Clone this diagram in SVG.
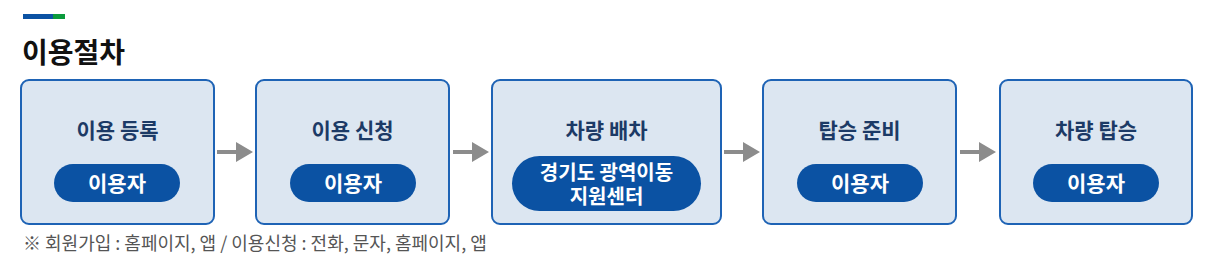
<svg xmlns="http://www.w3.org/2000/svg" width="1213" height="280" viewBox="0 0 1213 280">
<style>
text{font-family:"Noto Sans CJK KR","Noto Sans",sans-serif}
.box{fill:#dce6f1;stroke:#1e63b5;stroke-width:2}
.pill{fill:#0b52a3}
.ttl{font-size:21px;font-weight:bold;fill:#1c3a66;text-anchor:middle}
.who{font-size:21px;font-weight:bold;fill:#ffffff;text-anchor:middle}
.who2{font-size:20px;font-weight:bold;fill:#ffffff;text-anchor:middle}
.arr{fill:#8c8c8c}
</style>
<rect x="23" y="14" width="30" height="5" fill="#0b52a3"/>
<rect x="53" y="14" width="12" height="5" fill="#0b9a3c"/>
<text x="22" y="63" font-size="28" font-weight="bold" fill="#111">이용절차</text>
<g id="n1">
<rect class="box" x="21" y="80" width="193" height="144" rx="8"/>
<text class="ttl" x="117.5" y="138">이용 등록</text>
<rect class="pill" x="54" y="164" width="126" height="38" rx="19"/>
<text class="who" x="117" y="191">이용자</text>
</g>
<g id="n2">
<rect class="box" x="256" y="80" width="193" height="144" rx="8"/>
<text class="ttl" x="352.5" y="138">이용 신청</text>
<rect class="pill" x="290" y="164" width="126" height="38" rx="19"/>
<text class="who" x="353" y="191">이용자</text>
</g>
<g id="n3">
<rect class="box" x="492" y="80" width="229" height="144" rx="8"/>
<text class="ttl" x="606.5" y="138">차량 배차</text>
<rect class="pill" x="512" y="156" width="189" height="55" rx="27.5"/>
<text class="who2" x="606.5" y="180"><tspan x="606.5" y="180">경기도 광역이동</tspan><tspan x="606.5" y="204">지원센터</tspan></text>
</g>
<g id="n4">
<rect class="box" x="763" y="80" width="193" height="144" rx="8"/>
<text class="ttl" x="859.5" y="138">탑승 준비</text>
<rect class="pill" x="797" y="164" width="126" height="38" rx="19"/>
<text class="who" x="860" y="191">이용자</text>
</g>
<g id="n5">
<rect class="box" x="1000" y="80" width="192" height="144" rx="8"/>
<text class="ttl" x="1096" y="138">차량 탑승</text>
<rect class="pill" x="1033" y="164" width="126" height="38" rx="19"/>
<text class="who" x="1096" y="191">이용자</text>
</g>
<g id="connectors">
<path class="arr" d="M217 150h19v-8l17 10l-17 10v-8h-19z"/>
<path class="arr" d="M453 150h19v-8l17 10l-17 10v-8h-19z"/>
<path class="arr" d="M724 150h19v-8l17 10l-17 10v-8h-19z"/>
<path class="arr" d="M960 150h19v-8l17 10l-17 10v-8h-19z"/>
</g>
<text x="23" y="250" font-size="18" fill="#555">※ 회원가입 : 홈페이지, 앱 / 이용신청 : 전화, 문자, 홈페이지, 앱</text>
</svg>
